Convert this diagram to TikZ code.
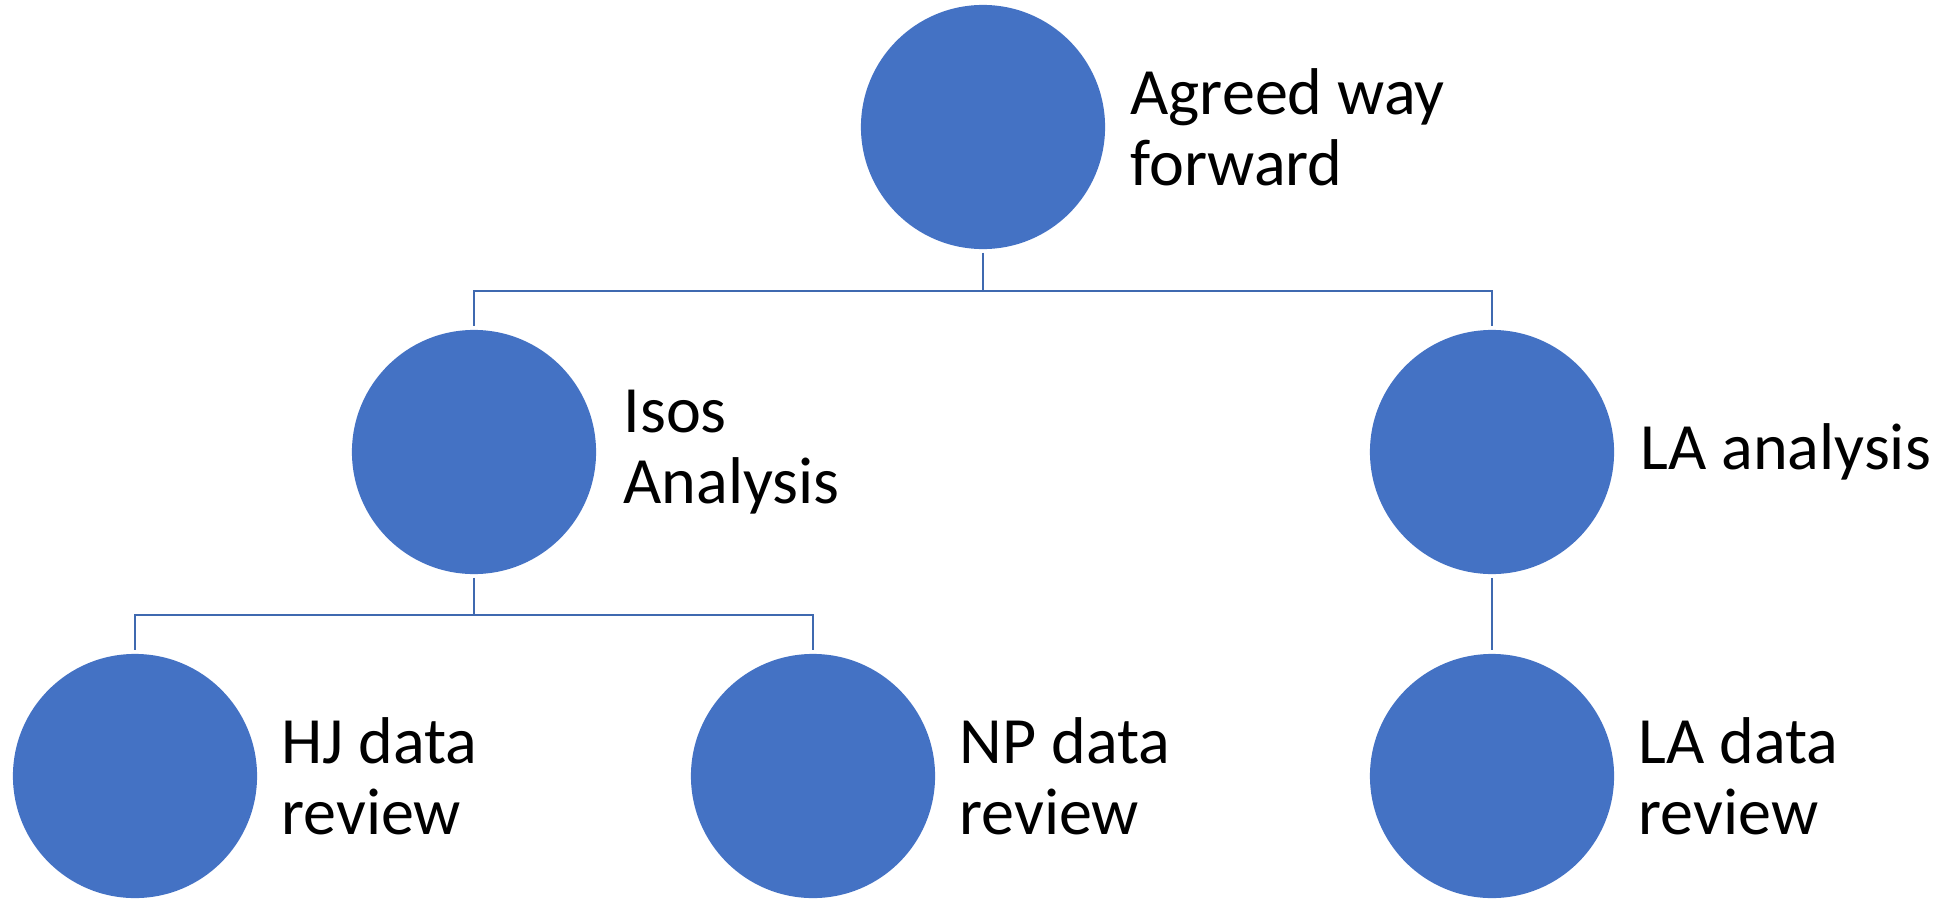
\documentclass[tikz,border=0pt]{standalone}
\usepackage{fontspec}
\setmainfont{Carlito}
\usepackage{tikz}
\usetikzlibrary{positioning}
\definecolor{nodeblue}{HTML}{4472C4}
\definecolor{lineblue}{HTML}{3F69B0}

\begin{document}
\begin{tikzpicture}[x=0.01cm,y=0.01cm,
  font=\fontsize{18.8pt}{20.3pt}\selectfont,
  blob/.style={circle,fill=nodeblue,draw=none,minimum size=2.44cm,inner sep=0pt},
  tag/.style={inner sep=0pt,align=left,text=black},
  link/.style={draw=lineblue,line width=0.7pt,shorten <=0.03cm,shorten >=0.03cm}]
\useasboundingbox (0,0) rectangle (1946,908);
% circles
\node[blob] (top) at (983,781) {};
\node[blob] (isos) at (474,456) {};
\node[blob] (la) at (1492,456) {};
\node[blob] (hj) at (135,132) {};
\node[blob] (np) at (813,132) {};
\node[blob] (lad) at (1492,132) {};
% labels
\node[tag,right=0.24cm of top] (toptext) {Agreed way\\forward};
\node[tag,right=0.26cm of isos] (isostext) {Isos\\Analysis};
\node[tag,right=0.25cm of la] (latext) {LA analysis};
\node[tag,right=0.23cm of hj] (hjtext) {HJ data\\review};
\node[tag,right=0.23cm of np] (nptext) {NP data\\review};
\node[tag,right=0.23cm of lad] (ladtext) {LA data\\review};
% connectors
\draw[link] (top.south) -- ++(0,-41) -| (isos.north);
\draw[link] (top.south) -- ++(0,-41) -| (la.north);
\draw[link] (isos.south) -- ++(0,-40) -| (hj.north);
\draw[link] (isos.south) -- ++(0,-40) -| (np.north);
\draw[link] (la) -- (lad);
\end{tikzpicture}
\end{document}
